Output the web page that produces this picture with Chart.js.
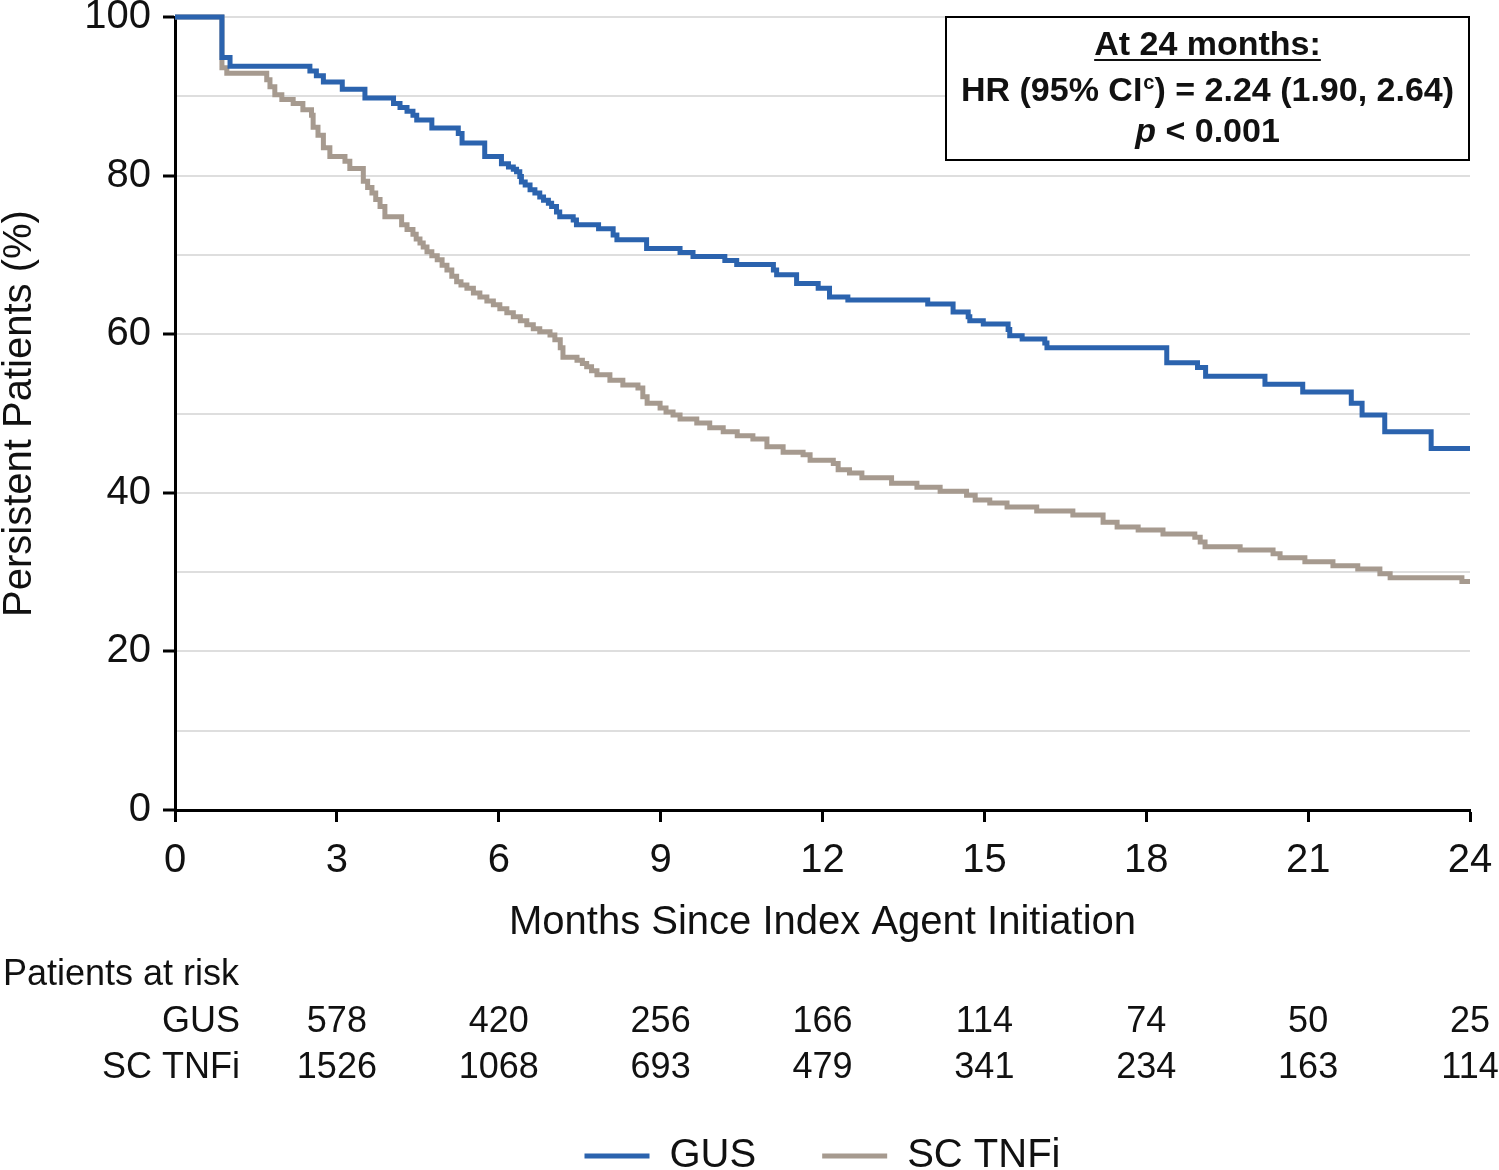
<!DOCTYPE html>
<html><head><meta charset="utf-8">
<script src="https://cdn.jsdelivr.net/npm/chart.js@4.4.1/dist/chart.umd.min.js"></script>
<style>html,body{margin:0;padding:0;background:#fff;}canvas{display:block;}</style>
</head><body>
<canvas id="c" width="1499" height="1170"></canvas>
<script>
// ---- data ----
const seriesNames = ['GUS', 'SC TNFi'];
const gusMonths = [0,0.87,1.02,2.5,2.62,2.75,3.1,3.52,4.05,4.17,4.3,4.41,4.48,4.76,5.25,5.32,5.74,6.05,6.18,6.27,6.33,6.39,6.42,6.49,6.58,6.67,6.76,6.83,6.92,6.98,7.07,7.13,7.38,7.44,7.85,8.12,8.19,8.74,9.36,9.6,10.19,10.41,11.09,11.15,11.52,11.92,12.13,12.47,13.95,14.42,14.7,14.73,14.98,15.44,15.47,15.7,16.12,16.16,18.38,18.95,19.1,20.2,20.9,21.8,22.0,22.42,23.28,24];
const gusPct    = [100,94.9,93.8,93.2,92.6,91.8,90.9,89.8,89.1,88.6,88.1,87.6,87.0,86.0,85.3,84.1,82.4,81.5,81.1,80.8,80.5,79.9,79.2,78.8,78.2,77.8,77.3,76.9,76.5,76.1,75.4,74.8,74.4,73.8,73.3,72.5,71.9,70.8,70.3,69.8,69.3,68.8,68.1,67.5,66.4,65.8,64.7,64.3,63.8,62.8,62.2,61.7,61.3,60.6,59.8,59.4,58.9,58.3,56.4,55.8,54.7,53.7,52.7,51.3,49.8,47.7,45.6,45.6];
const tnfMonths = [0,0.87,0.96,1.7,1.76,1.85,1.98,2.19,2.37,2.53,2.56,2.65,2.75,2.87,3.15,3.24,3.49,3.57,3.65,3.72,3.8,3.89,4.2,4.3,4.41,4.47,4.54,4.6,4.67,4.76,4.86,4.95,5.04,5.13,5.22,5.3,5.41,5.53,5.65,5.78,5.9,6.02,6.15,6.27,6.4,6.52,6.64,6.76,6.95,7.04,7.14,7.19,7.45,7.55,7.63,7.72,7.82,8.06,8.3,8.58,8.67,8.75,8.99,9.1,9.23,9.36,9.67,9.91,10.16,10.42,10.71,10.97,11.27,11.64,11.77,12.2,12.29,12.5,12.73,13.28,13.75,14.18,14.67,14.83,15.1,15.42,15.97,16.64,17.2,17.46,17.85,18.31,18.9,19.0,19.09,19.74,20.35,20.48,20.94,21.46,21.92,22.33,22.52,23.85,24];
const tnfPct    = [100,93.6,92.9,92.1,91.2,90.2,89.6,89.1,88.3,87.6,86.1,85.1,83.5,82.4,81.8,80.9,79.3,78.5,77.8,77.0,76.1,74.8,73.8,73.2,72.6,72.0,71.5,71.0,70.4,69.9,69.4,68.7,68.1,67.3,66.6,66.2,65.8,65.2,64.7,64.2,63.7,63.2,62.7,62.2,61.7,61.2,60.7,60.3,59.9,59.3,58.3,57.1,56.7,56.3,55.9,55.4,54.9,54.2,53.6,53.2,52.1,51.3,50.7,50.2,49.8,49.3,48.8,48.2,47.7,47.2,46.8,45.8,45.1,44.8,44.1,43.7,42.9,42.5,41.9,41.2,40.7,40.2,39.7,39.1,38.7,38.2,37.7,37.2,36.3,35.7,35.3,34.8,34.4,33.8,33.2,32.8,32.3,31.8,31.3,30.8,30.4,29.8,29.3,28.8,28.8];
const riskMonths = [3,6,9,12,15,18,21,24];
const riskGUS = [578,420,256,166,114,74,50,25];
const riskTNF = [1526,1068,693,479,341,234,163,114];
const xTickStep = 3, yTickStep = 10, yLabelStep = 20;
const xTitle = 'Months Since Index Agent Initiation';
const yTitle = 'Persistent Patients (%)';
const boxLines = ['At 24 months:', 'HR (95% CI', 'c', ') = 2.24 (1.90, 2.64)', 'p', ' < 0.001'];
const riskTitle = 'Patients at risk';

// ---- styling ----
const FONT = "'Liberation Sans', Arial, Helvetica, sans-serif";
const BLUE = '#2b63ae', TAN = '#a69a8f';
const LEG_FONT = 40, LEG_PAD = 66, PAD_BOTTOM = -16;
const LEG_H = LEG_FONT + LEG_PAD + 10;

const toPts = (xs, ys) => xs.map((m, i) => ({x: m, y: ys[i]}));

const extras = {
  id: 'extras',
  afterDraw(chart) {
    const {ctx, chartArea: ca, scales: {x}} = chart;
    ctx.save();
    // annotation box
    const bw = 523, bh = 143;
    const bx = ca.right - bw - 1, by = ca.top;
    ctx.fillStyle = '#fff';
    ctx.fillRect(bx, by, bw, bh);
    ctx.strokeStyle = '#000'; ctx.lineWidth = 2;
    ctx.strokeRect(bx, by, bw, bh);
    const cx = bx + bw / 2;
    ctx.fillStyle = '#111';
    ctx.textBaseline = 'middle';
    ctx.textAlign = 'left';
    // line 1 underlined
    ctx.font = `bold 34px ${FONT}`;
    let w = ctx.measureText(boxLines[0]).width;
    ctx.fillText(boxLines[0], cx - w / 2, by + 29);
    ctx.fillRect(cx - w / 2, by + 42, w, 2);
    // line 2 with superscript
    ctx.font = `bold 34px ${FONT}`;
    const w1 = ctx.measureText(boxLines[1]).width;
    const w3 = ctx.measureText(boxLines[3]).width;
    ctx.font = `bold 20px ${FONT}`;
    const w2 = ctx.measureText(boxLines[2]).width + 1;
    let sx = cx - (w1 + w2 + w3) / 2;
    const l2y = by + 75;
    ctx.font = `bold 34px ${FONT}`;
    ctx.fillText(boxLines[1], sx, l2y);
    ctx.font = `bold 20px ${FONT}`;
    ctx.fillText(boxLines[2], sx + w1 + 1, l2y - 9);
    ctx.font = `bold 34px ${FONT}`;
    ctx.fillText(boxLines[3], sx + w1 + w2, l2y);
    // line 3
    ctx.font = `italic bold 34px ${FONT}`;
    const wp = ctx.measureText(boxLines[4]).width;
    ctx.font = `bold 34px ${FONT}`;
    const wr = ctx.measureText(boxLines[5]).width;
    sx = cx - (wp + wr) / 2;
    const l3y = by + 116;
    ctx.font = `italic bold 34px ${FONT}`;
    ctx.fillText(boxLines[4], sx, l3y);
    ctx.font = `bold 34px ${FONT}`;
    ctx.fillText(boxLines[5], sx + wp, l3y);

    // at-risk table
    ctx.font = `36px ${FONT}`;
    ctx.fillStyle = '#111';
    ctx.textAlign = 'left';
    ctx.fillText(riskTitle, 3, 975);
    ctx.textAlign = 'right';
    ctx.fillText(seriesNames[0], 240, 1022);
    ctx.fillText(seriesNames[1], 240, 1068);
    ctx.textAlign = 'center';
    riskMonths.forEach((m, i) => {
      const px = x.getPixelForValue(m);
      ctx.fillText(String(riskGUS[i]), px, 1022);
      ctx.fillText(String(riskTNF[i]), px, 1068);
    });
    ctx.restore();
  }
};

new Chart(document.getElementById('c'), {
  type: 'line',
  data: {
    datasets: [
      {label: seriesNames[0], data: toPts(gusMonths, gusPct), borderColor: BLUE, backgroundColor: BLUE, borderWidth: 5, pointRadius: 0, stepped: true, clip: false},
      {label: seriesNames[1], data: toPts(tnfMonths, tnfPct), borderColor: TAN, backgroundColor: TAN, borderWidth: 5, pointRadius: 0, stepped: true, clip: false}
    ]
  },
  options: {
    responsive: false,
    devicePixelRatio: 1,
    animation: false,
    layout: {padding: {top: 17, left: 0, right: 29, bottom: PAD_BOTTOM}},
    plugins: {
      tooltip: {enabled: false},
      legend: {
        position: 'bottom', fullSize: false,
        labels: {usePointStyle: true, pointStyle: 'line', pointStyleWidth: 65, padding: LEG_PAD, color: '#111', font: {family: FONT, size: LEG_FONT}}
      }
    },
    scales: {
      x: {
        type: 'linear', min: 0, max: 24,
        afterFit: s => { s.height = 1170 - 810 - LEG_H - PAD_BOTTOM; },
        ticks: {stepSize: xTickStep, padding: 0, color: '#111', font: {family: FONT, size: 40, lineHeight: 1.95}},
        grid: {drawOnChartArea: false, drawTicks: true, tickLength: 12, tickWidth: 3, tickColor: '#000'},
        border: {display: true, color: '#000', width: 3},
        title: {display: true, text: xTitle, color: '#111', font: {family: FONT, size: 40, lineHeight: 1}, padding: {top: 0, bottom: 127}}
      },
      y: {
        min: 0, max: 100,
        afterFit: s => { s.width = 175; },
        ticks: {stepSize: yTickStep, padding: 12, color: '#111', font: {family: FONT, size: 40, lineHeight: 0.1},
          callback: v => (v % yLabelStep === 0 ? String(v) : '')},
        grid: {
          color: c => (c.tick && c.tick.value === 0 ? 'rgba(0,0,0,0)' : '#dedede'),
          lineWidth: 2, tickLength: 12, tickWidth: 3,
          tickColor: c => (c.tick && c.tick.value % yLabelStep === 0 ? '#000' : 'rgba(0,0,0,0)')
        },
        border: {display: true, color: '#000', width: 3},
        title: {display: true, text: yTitle, color: '#111', font: {family: FONT, size: 40, lineHeight: 1}, padding: 0}
      }
    }
  },
  plugins: [extras]
});
</script>
</body></html>
